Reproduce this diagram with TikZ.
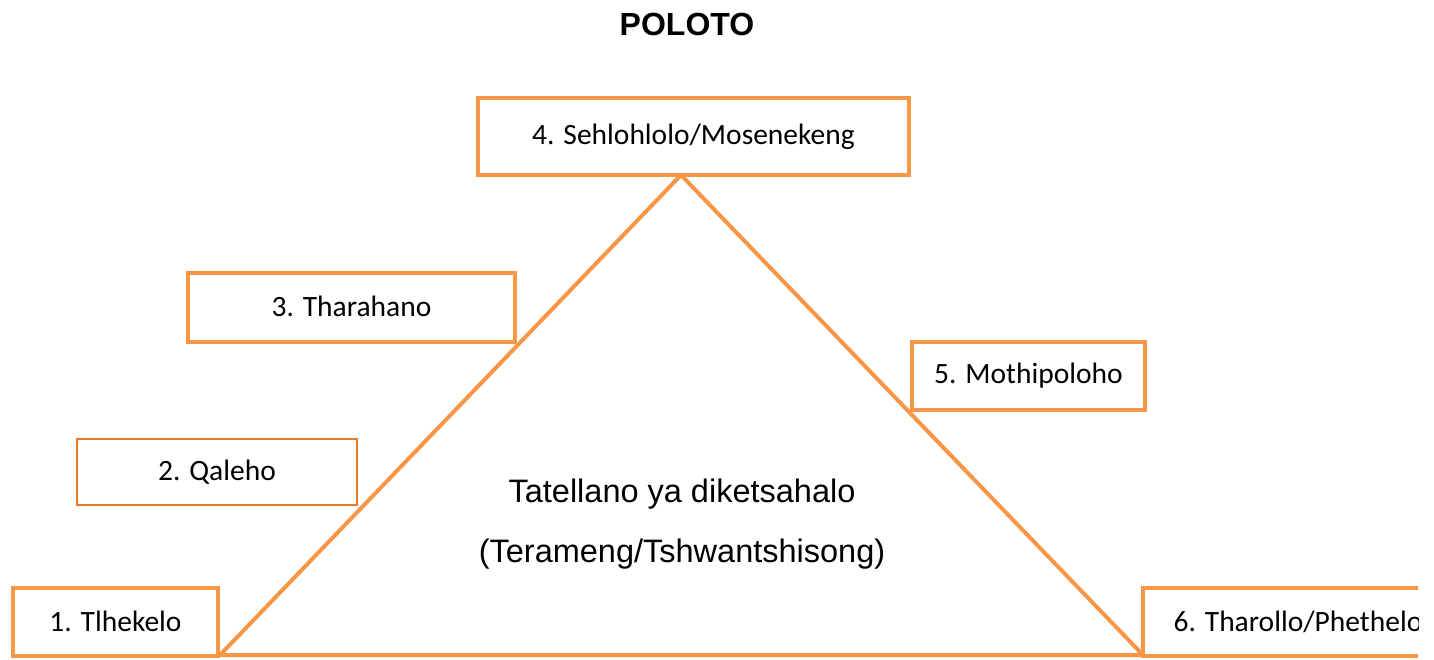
\documentclass[tikz,border=0pt]{standalone}
\usepackage{fontspec}
\setmainfont{Liberation Sans}
\newfontfamily\stagefont{Carlito}
\definecolor{stageorange}{HTML}{F79646}
\definecolor{thinorange}{HTML}{E8792A}

\begin{document}
\begin{tikzpicture}[x=1pt, y=-1pt,
	stage/.style={draw=stageorange, line width=4pt, fill=white, inner sep=0pt,
		font=\stagefont\fontsize{29.5}{34}\selectfont}]
	\useasboundingbox (0,0) rectangle (1434,659);
	\node [font=\bfseries\fontsize{32}{36}\selectfont] (Title) at (687, 24) {POLOTO};
	% triangle
	\coordinate (Top) at (681, 175);
	\coordinate (Left) at (220, 655);
	\coordinate (Right) at (1143, 655);
	\draw [stageorange, line width=4pt, line join=miter] (Left) -- (Top) -- (Right) -- cycle;
	\node [font=\fontsize{32.5}{36}\selectfont] (Plot) at (682, 494) {Tatellano ya diketsahalo};
	\node [font=\fontsize{32.5}{36}\selectfont] (Kind) at (682, 554) {(Terameng/Tshwantshisong)};
	% stages
	\node [stage, minimum width=205, minimum height=68] (Tlhekelo) at (115.5, 622) {\raisebox{2pt}{1. Tlhekelo}};
	\node [stage, draw=thinorange, line width=2pt, minimum width=280, minimum height=66] (Qaleho) at (217, 472) {\raisebox{2pt}{2. Qaleho}};
	\node [stage, minimum width=327, minimum height=69] (Tharahano) at (351.5, 307.5) {\raisebox{2pt}{3. Tharahano}};
	\node [stage, minimum width=431, minimum height=77] (Sehlohlolo) at (693.5, 136.5) {\raisebox{4pt}{4. Sehlohlolo/Mosenekeng}};
	\node [stage, minimum width=233, minimum height=68] (Mothipoloho) at (1028.5, 376) {\raisebox{2pt}{5. Mothipoloho}};
	\begin{scope}
		\clip (0,0) rectangle (1418,659);
		\node [stage, minimum width=310, minimum height=68] (Tharollo) at (1298, 622) {\raisebox{2pt}{6. Tharollo/Phethelo}};
	\end{scope}
\end{tikzpicture}
\end{document}
